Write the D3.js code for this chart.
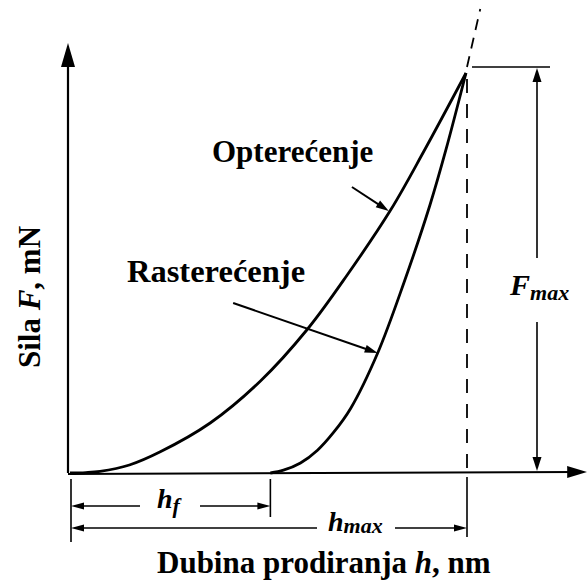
<!DOCTYPE html>
<html>
<head>
<meta charset="utf-8">
<script src="https://cdn.jsdelivr.net/npm/d3@7"></script>
<style>
  body { margin: 0; background: #fff; }
  svg text, svg tspan { font-family: "Liberation Serif", "Times New Roman", serif !important; font-weight: bold; }
</style>
</head>
<body>
<svg id="chart" width="587" height="581" font-family="Liberation Serif"></svg>
<script>
// Loading branch: penetration depth h (nm) vs. force F (mN)
const loadDepth = [0, 40, 76, 150, 228, 354, 481, 600, 700, 810, 894, 1000];
const loadForce = [0, 0.01, 0.04, 0.2, 0.53, 1.25, 2.3, 3.6, 4.95, 6.58, 8.05, 10];

// Unloading branch, from residual depth h_f back up to the peak
const unloadDepth = [506, 539, 582, 625, 666, 709, 777, 843, 909, 949, 1000];
const unloadForce = [0, 0.07, 0.25, 0.57, 1.02, 1.62, 3.0, 4.75, 6.7, 8.07, 10];

// Characteristic values
const hMax = 1000;   // nm
const hF = 506;      // nm
const fMax = 10;     // mN

// Tangent to the top of the unloading branch (initial unloading stiffness)
const tangentDepth = [1000, 1036];
const tangentForce = [10, 11.6];

// Axis extents
const axisDepthEnd = 1306;
const axisForceEnd = 10.75;

// Labels
const labelLoad = "Opterećenje";
const labelUnload = "Rasterećenje";
const labelX = ["Dubina prodiranja ", "h", ", nm"];
const labelY = ["Sila ", "F", ", mN"];

const svg = d3.select("#chart");
const x = d3.scaleLinear().domain([0, hMax]).range([70, 466]);
const y = d3.scaleLinear().domain([0, fMax]).range([473, 73]);

// Text first, so labels share the serif face
function label(xp, yp, size) {
  return svg.append("text")
    .attr("x", xp).attr("y", yp)
    .style("font-family", "Liberation Serif")
    .style("font-weight", "bold")
    .style("font-size", size + "px");
}
function sub(t, txt, size, dy, italic) {
  const s = t.append("tspan").text(txt);
  if (italic) s.style("font-style", "italic");
  if (size) s.style("font-size", size + "px");
  if (dy) s.attr("dy", dy);
  return s;
}

// Filled triangular arrowhead with its tip at (tx, ty), pointing along angle a
function head(tx, ty, a, len, half) {
  const bx = tx - len * Math.cos(a), by = ty - len * Math.sin(a);
  const nx = -Math.sin(a) * half, ny = Math.cos(a) * half;
  svg.append("path")
    .attr("d", `M${tx},${ty}L${bx + nx},${by + ny}L${bx - nx},${by - ny}Z`)
    .attr("fill", "#000");
}
function seg(x1, y1, x2, y2, w, dash) {
  const l = svg.append("line")
    .attr("x1", x1).attr("y1", y1).attr("x2", x2).attr("y2", y2)
    .attr("stroke", "#000").attr("stroke-width", w);
  if (dash) l.attr("stroke-dasharray", dash);
  return l;
}

const x0 = x(0), y0 = y(0);

// Axis titles
const xt = label(157, 573, 31);
sub(xt, labelX[0]);
sub(xt, labelX[1], null, 0, true);
sub(xt, labelX[2]);

const yt = label(0, 0, 31)
  .attr("transform", "translate(40,297) rotate(-90)")
  .attr("text-anchor", "middle");
sub(yt, labelY[0]);
sub(yt, labelY[1], null, 0, true);
sub(yt, labelY[2]);

// Branch labels
label(212, 162, 31).text(labelLoad);
label(127, 282, 32.5).text(labelUnload);

// Axes
seg(x0 - 2, y0 + 1, x(axisDepthEnd) - 10, y0 - 1, 2.2);
head(x(axisDepthEnd), y0 - 1, Math.atan2(-2, x(axisDepthEnd) - x0), 20, 6);
seg(x0 - 2, y0, x0 - 2, y(axisForceEnd) + 14, 2.2);
head(x0 - 2, y(axisForceEnd), -Math.PI / 2, 24, 7);

// Curves
const line = d3.line().x(d => x(d[0])).y(d => y(d[1])).curve(d3.curveCatmullRom.alpha(0.5));
svg.append("path")
  .datum(d3.zip(loadDepth, loadForce))
  .attr("d", line).attr("fill", "none").attr("stroke", "#000").attr("stroke-width", 2.8);
svg.append("path")
  .datum(d3.zip(unloadDepth, unloadForce))
  .attr("d", line).attr("fill", "none").attr("stroke", "#000").attr("stroke-width", 2.8);

// Dashed tangent above the peak and dashed drop line at h_max
seg(x(tangentDepth[0]) + 1, y(tangentForce[0]) - 6, x(tangentDepth[1]), y(tangentForce[1]), 1.8, "11,8");
seg(x(hMax) + 1, y(fMax) + 6, x(hMax) + 1, y0 - 2, 1.8, "14,11");

// F_max dimension
const fTop = y(fMax) - 6;
seg(x(hMax) + 6, fTop, x(hMax) + 84, fTop, 1.6);
const fx = x(hMax) + 71;
seg(fx, fTop + 12, fx, 258, 1.6);
head(fx, fTop + 1, -Math.PI / 2, 14, 4.5);
seg(fx, 322, fx, y0 - 14, 1.6);
head(fx, y0 - 2, Math.PI / 2, 14, 4.5);
const fm = label(fx - 27, 295, 30);
sub(fm, "F", null, 0, true);
sub(fm, "max", 22, 5, true);

// Depth dimension lines
seg(x0 + 1, y0 + 6, x0 + 1, 542, 1.6);
seg(x(hF), y0 + 6, x(hF), 517, 1.6);
seg(x(hMax) + 1, y0 + 4, x(hMax) + 1, 537, 1.6);

const yF = 506, yM = 528;
seg(x0 + 12, yF, 140, yF, 1.6);
head(x0 + 1, yF, Math.PI, 13, 3.5);
seg(200, yF, x(hF) - 12, yF, 1.6);
head(x(hF), yF, 0, 13, 3.5);
seg(x0 + 12, yM, 317, yM, 1.6);
head(x0 + 1, yM, Math.PI, 13, 3.5);
seg(395, yM, x(hMax) - 12, yM, 1.6);
head(x(hMax) + 1, yM, 0, 13, 3.5);

const tf = label(157, 508, 28);
sub(tf, "h", null, 0, true);
sub(tf, "f", 22, 5, true);
const tm = label(328, 531, 28);
sub(tm, "h", null, 0, true);
sub(tm, "max", 22, 2, true);

// Pointers from the branch labels to the curves
function pointer(fromH, fromF, toH, toF) {
  const x1 = x(fromH), y1 = y(fromF), x2 = x(toH), y2 = y(toF);
  const a = Math.atan2(y2 - y1, x2 - x1);
  seg(x1, y1, x2 - 10 * Math.cos(a), y2 - 10 * Math.sin(a), 2);
  head(x2, y2, a, 13, 4);
}
pointer(712, 7.15, 805, 6.55);
pointer(412, 4.25, 777, 3.0);
</script>
</body>
</html>
